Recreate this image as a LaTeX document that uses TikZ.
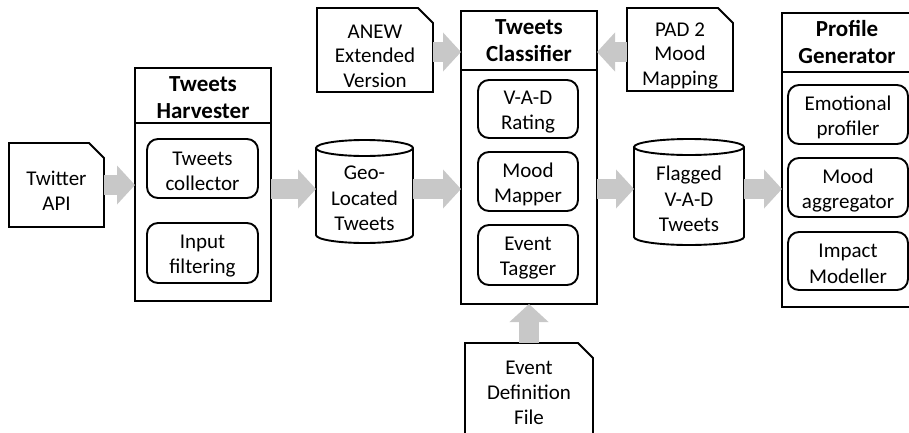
\documentclass[tikz,border=0pt]{standalone}
\usepackage{fontspec}
\setmainfont{Carlito}
\usetikzlibrary{arrows.meta}
\definecolor{arrgray}{RGB}{200,200,200}
\tikzset{
  every node/.style={font=\fontsize{21}{25.5}\selectfont, inner sep=0pt, outer sep=0pt, align=center},
  ln/.style={line width=1.9pt, line join=miter},
  doc/.style={draw=none, label={[yshift=-6pt, font=\fontsize{21}{24.5}\selectfont]center:#1}},
  cont/.style={draw, ln},
  inbox/.style={draw, ln, rounded corners=11pt, label={[yshift=-3pt]center:#1}},
  head/.style={font=\fontsize{23}{27}\selectfont\bfseries},
  cyl/.style={draw=none, label={[yshift=-7pt]center:#1}},
  bigarrow/.style={draw=arrgray, line width=20pt, -{Triangle[width=38pt,length=18pt]}}
}
\begin{document}
\begin{tikzpicture}[x=1pt,y=1pt]
\useasboundingbox (0,0) rectangle (909,-432);
% rows for arrows
\coordinate (midrow) at (0,-189);
\coordinate (toprow) at (0,-52);

% nodes
\node[doc={Twitter\\API}, minimum width=95pt, minimum height=84pt] (api) at (56.5,-185) {};
\node[cont, minimum width=136pt, minimum height=233pt] (harv) at (203,-184.5) {};
\node[head] (harvh) at (203,-97.5) {Tweets\\Harvester};
\node[inbox={Tweets\\collector}, minimum width=111pt, minimum height=59pt] (coll) at (202.5,-168.5) {};
\node[inbox={Input\\filtering}, minimum width=111pt, minimum height=60pt] (filt) at (202.5,-253) {};

\node[cyl={Geo-\\Located\\Tweets}, minimum width=97pt, minimum height=87pt] (geo) at (364.5,-191.5) {};

\node[doc={ANEW\\Extended\\Version}, minimum width=116pt, minimum height=84pt] (anew) at (375,-50) {};

\node[cont, minimum width=136pt, minimum height=293pt] (cls) at (529,-157.5) {};
\node[head] (clsh) at (529,-40.5) {Tweets\\Classifier};
\node[inbox={V-A-D\\Rating}, minimum width=100pt, minimum height=58pt] (vad) at (528,-109) {};
\node[inbox={Mood\\Mapper}, minimum width=100pt, minimum height=59pt] (mood) at (528,-181.5) {};
\node[inbox={Event\\Tagger}, minimum width=100pt, minimum height=60pt] (tag) at (528,-255) {};

\node[doc={PAD 2\\Mood\\Mapping}, minimum width=106pt, minimum height=83pt] (pad) at (680,-49.5) {};

\node[cyl={Flagged\\V-A-D\\Tweets}, minimum width=110pt, minimum height=90pt] (flag) at (689,-192) {};

\node[cont, minimum width=130pt, minimum height=294pt] (prof) at (847,-160) {};
\node[head] (profh) at (847,-41.5) {Profile\\Generator};
\node[inbox={Emotional\\profiler}, minimum width=120pt, minimum height=59pt] (emo) at (848,-114.5) {};
\node[inbox={Mood\\aggregator}, minimum width=120pt, minimum height=59pt] (agg) at (848,-187.5) {};
\node[inbox={Impact\\Modeller}, minimum width=120pt, minimum height=58pt] (imp) at (848,-261) {};

\node[draw=none, minimum width=128pt, minimum height=100pt, font=\fontsize{21}{25}\selectfont] (evd) at (529,-393) {Event\\Definition\\File};

% header dividers
\draw[ln] ([yshift=-55pt]harv.north west) -- ([yshift=-55pt]harv.north east);
\draw[ln] ([yshift=-59pt]cls.north west) -- ([yshift=-59pt]cls.north east);
\draw[ln] ([yshift=-59pt]prof.north west) -- ([yshift=-59pt]prof.north east);

% document outlines (cut top-right corner)
\foreach \n in {api,anew,pad,evd}{
  \draw[ln] (\n.south west) -- (\n.north west) -- ([xshift=-15pt]\n.north east)
     -- ([yshift=-15pt]\n.north east) -- (\n.south east) -- cycle;
}

% cylinders
\draw[ln] (geo.north west) -- (geo.south west)
   arc[start angle=180,end angle=360,x radius=48.5pt,y radius=8pt] -- (geo.north east)
   arc[start angle=0,end angle=180,x radius=48.5pt,y radius=8pt]
   arc[start angle=180,end angle=360,x radius=48.5pt,y radius=8pt];
\draw[ln] (flag.north west) -- (flag.south west)
   arc[start angle=180,end angle=360,x radius=55pt,y radius=8pt] -- (flag.north east)
   arc[start angle=0,end angle=180,x radius=55pt,y radius=8pt]
   arc[start angle=180,end angle=360,x radius=55pt,y radius=8pt];

% block arrows
\draw[bigarrow] (api.east) -- (api.east -| harv.west);
\draw[bigarrow] (harv.east |- midrow) -- (geo.west |- midrow);
\draw[bigarrow] (geo.east |- midrow) -- (cls.west |- midrow);
\draw[bigarrow] (cls.east |- midrow) -- (flag.west |- midrow);
\draw[bigarrow] (flag.east |- midrow) -- (prof.west |- midrow);
\draw[bigarrow] (anew.east |- toprow) -- (cls.west |- toprow);
\draw[bigarrow] (pad.west |- toprow) -- (cls.east |- toprow);
\draw[bigarrow] (evd.north) -- (cls.south);
\end{tikzpicture}
\end{document}
